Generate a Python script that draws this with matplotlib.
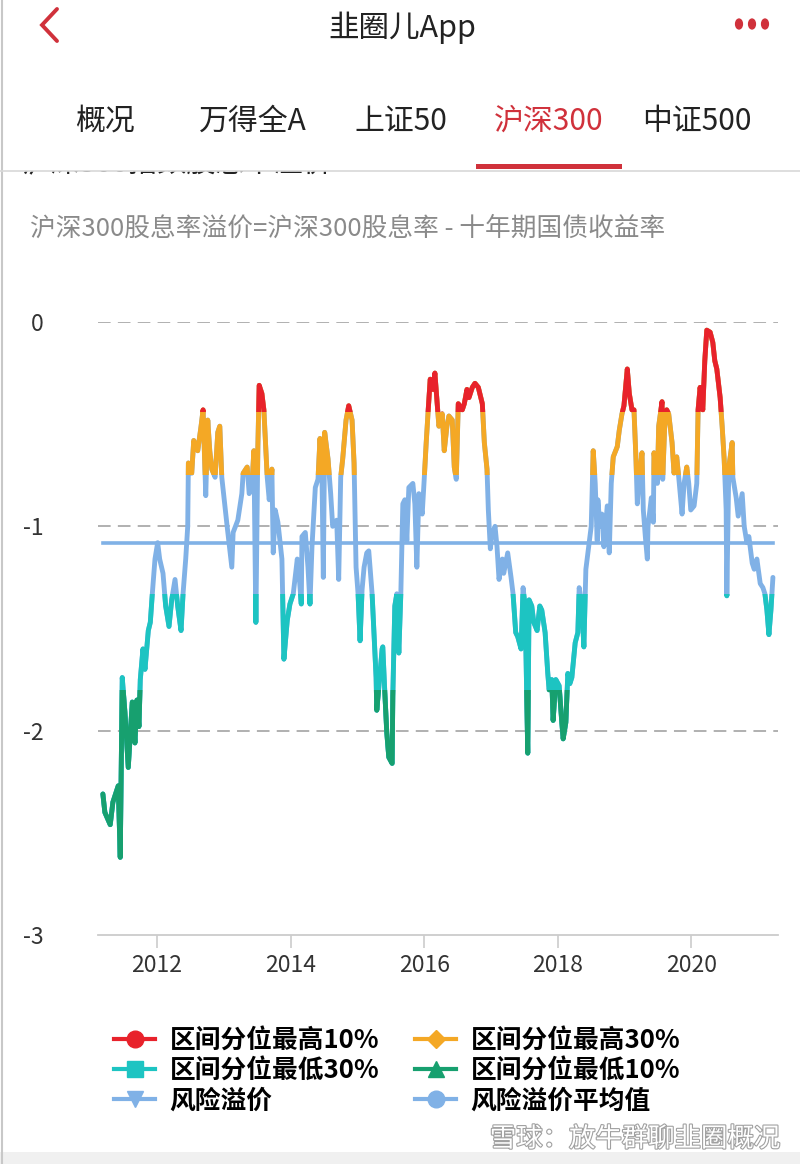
import matplotlib
matplotlib.use("Agg")
import matplotlib.pyplot as plt
import matplotlib.patheffects as pe
from matplotlib.lines import Line2D
from matplotlib.patches import Rectangle, Circle

plt.rcParams['font.family'] = ['Noto Sans CJK SC', 'DejaVu Sans']

# 沪深300 股息率溢价 (%)
years = [
    2011.19, 2011.22, 2011.30, 2011.34, 2011.40, 2011.42, 2011.45, 2011.48, 2011.52, 2011.57,
    2011.63, 2011.67, 2011.70, 2011.73, 2011.75, 2011.79, 2011.82, 2011.87, 2011.90, 2011.93,
    2011.97, 2012.01, 2012.04, 2012.09, 2012.13, 2012.18, 2012.22, 2012.27, 2012.31, 2012.36,
    2012.39, 2012.43, 2012.46, 2012.47, 2012.52, 2012.55, 2012.61, 2012.66, 2012.69, 2012.73,
    2012.76, 2012.79, 2012.82, 2012.87, 2012.91, 2012.94, 2012.97, 2013.05, 2013.12, 2013.14,
    2013.21, 2013.27, 2013.29, 2013.35, 2013.38, 2013.42, 2013.45, 2013.48, 2013.51, 2013.53,
    2013.57, 2013.60, 2013.65, 2013.68, 2013.72, 2013.74, 2013.77, 2013.81, 2013.87, 2013.90,
    2013.95, 2013.99, 2014.04, 2014.10, 2014.13, 2014.16, 2014.17, 2014.22, 2014.26, 2014.29,
    2014.32, 2014.37, 2014.41, 2014.44, 2014.47, 2014.49, 2014.51, 2014.56, 2014.60, 2014.63,
    2014.69, 2014.72, 2014.75, 2014.78, 2014.83, 2014.87, 2014.92, 2014.95, 2014.98, 2015.01,
    2015.04, 2015.07, 2015.10, 2015.14, 2015.17, 2015.22, 2015.25, 2015.28, 2015.29, 2015.32,
    2015.37, 2015.38, 2015.41, 2015.44, 2015.47, 2015.52, 2015.53, 2015.56, 2015.59, 2015.62,
    2015.65, 2015.68, 2015.71, 2015.74, 2015.77, 2015.83, 2015.86, 2015.89, 2015.92, 2015.97,
    2016.00, 2016.03, 2016.06, 2016.09, 2016.13, 2016.16, 2016.19, 2016.22, 2016.27, 2016.30,
    2016.34, 2016.37, 2016.42, 2016.45, 2016.48, 2016.51, 2016.57, 2016.60, 2016.64, 2016.67,
    2016.72, 2016.76, 2016.81, 2016.87, 2016.90, 2016.94, 2016.96, 2016.99, 2017.01, 2017.06,
    2017.09, 2017.12, 2017.17, 2017.19, 2017.25, 2017.30, 2017.33, 2017.37, 2017.40, 2017.45,
    2017.48, 2017.51, 2017.52, 2017.55, 2017.57, 2017.61, 2017.64, 2017.69, 2017.73, 2017.76,
    2017.81, 2017.85, 2017.87, 2017.91, 2017.93, 2017.97, 2018.02, 2018.06, 2018.08, 2018.12,
    2018.15, 2018.18, 2018.21, 2018.26, 2018.30, 2018.32, 2018.36, 2018.39, 2018.42, 2018.45,
    2018.50, 2018.53, 2018.56, 2018.59, 2018.60, 2018.63, 2018.66, 2018.69, 2018.74, 2018.77,
    2018.80, 2018.83, 2018.89, 2018.92, 2018.96, 2018.99, 2019.04, 2019.07, 2019.11, 2019.14,
    2019.17, 2019.19, 2019.22, 2019.26, 2019.28, 2019.31, 2019.34, 2019.35, 2019.40, 2019.43,
    2019.44, 2019.49, 2019.51, 2019.56, 2019.57, 2019.60, 2019.63, 2019.66, 2019.71, 2019.74,
    2019.78, 2019.81, 2019.86, 2019.89, 2019.93, 2019.96, 2019.99, 2020.04, 2020.08, 2020.10,
    2020.13, 2020.17, 2020.20, 2020.23, 2020.28, 2020.32, 2020.35, 2020.38, 2020.43, 2020.46,
    2020.49, 2020.52, 2020.53, 2020.56, 2020.61, 2020.62, 2020.67, 2020.70, 2020.76, 2020.79,
    2020.83, 2020.86, 2020.91, 2020.94, 2020.98, 2021.03, 2021.07, 2021.10, 2021.13, 2021.16,
    2021.19, 2021.22,
]
premium = [
    -2.31, -2.40, -2.46, -2.35, -2.29, -2.27, -2.62, -1.74, -1.91, -2.18,
    -1.86, -2.06, -1.85, -1.98, -1.75, -1.60, -1.70, -1.51, -1.47, -1.33,
    -1.16, -1.08, -1.16, -1.23, -1.39, -1.49, -1.36, -1.26, -1.39, -1.51,
    -1.33, -1.16, -1.00, -0.69, -0.74, -0.58, -0.63, -0.51, -0.43, -0.85,
    -0.48, -0.63, -0.72, -0.76, -0.54, -0.51, -0.76, -1.00, -1.20, -1.03,
    -0.97, -0.84, -0.74, -0.71, -0.84, -0.81, -0.63, -1.47, -0.61, -0.31,
    -0.35, -0.43, -0.76, -0.87, -0.72, -1.13, -0.92, -0.98, -1.16, -1.65,
    -1.46, -1.38, -1.33, -1.16, -1.25, -1.38, -1.05, -1.03, -1.20, -1.38,
    -1.10, -0.81, -0.77, -0.57, -0.76, -1.25, -0.54, -0.67, -0.84, -1.00,
    -0.97, -1.26, -0.76, -0.67, -0.48, -0.41, -0.48, -0.69, -1.20, -1.33,
    -1.56, -1.31, -1.20, -1.13, -1.12, -1.33, -1.54, -1.74, -1.90, -1.79,
    -1.60, -1.59, -1.81, -2.01, -2.13, -2.16, -1.83, -1.39, -1.33, -1.62,
    -1.33, -0.89, -0.87, -1.07, -0.81, -0.79, -0.89, -1.20, -0.84, -0.94,
    -0.77, -0.59, -0.43, -0.28, -0.33, -0.25, -0.38, -0.51, -0.45, -0.63,
    -0.51, -0.46, -0.48, -0.71, -0.77, -0.40, -0.43, -0.40, -0.33, -0.37,
    -0.32, -0.30, -0.32, -0.40, -0.59, -0.72, -0.92, -1.11, -1.05, -1.00,
    -1.10, -1.26, -1.16, -1.23, -1.13, -1.25, -1.33, -1.52, -1.54, -1.60,
    -1.30, -1.39, -1.56, -2.11, -1.36, -1.39, -1.47, -1.51, -1.39, -1.41,
    -1.52, -1.72, -1.80, -1.75, -1.95, -1.75, -1.78, -1.96, -2.04, -1.96,
    -1.72, -1.77, -1.74, -1.57, -1.52, -1.30, -1.39, -1.59, -1.21, -1.13,
    -1.00, -0.63, -0.79, -1.07, -0.87, -1.00, -0.94, -1.10, -0.90, -1.13,
    -0.79, -0.66, -0.61, -0.53, -0.45, -0.41, -0.23, -0.35, -0.43, -0.43,
    -0.67, -0.89, -0.76, -0.64, -0.92, -1.05, -1.16, -1.00, -0.86, -0.98,
    -0.64, -0.79, -0.51, -0.39, -0.77, -0.51, -0.43, -0.45, -0.59, -0.74,
    -0.66, -0.76, -0.94, -0.79, -0.71, -0.79, -0.92, -0.90, -0.79, -0.43,
    -0.32, -0.43, -0.19, -0.04, -0.05, -0.10, -0.19, -0.23, -0.37, -0.51,
    -0.67, -0.92, -1.34, -0.71, -0.59, -0.76, -0.86, -0.95, -0.84, -1.00,
    -1.08, -1.05, -1.18, -1.21, -1.16, -1.28, -1.30, -1.33, -1.41, -1.53,
    -1.41, -1.25,
]
mean_premium = -1.08
# percentile thresholds: top 10%, top 30%, bottom 30%, bottom 10%
q90, q70, q30, q10 = -0.44, -0.75, -1.33, -1.80

x_ticks = [2012, 2014, 2016, 2018, 2020]
y_ticks = [0, -1, -2, -3]

legend_labels = ['区间分位最高10%', '区间分位最高30%', '区间分位最低30%',
                 '区间分位最低10%', '风险溢价', '风险溢价平均值']

RED = '#e8222b'
ORANGE = '#f4a825'
CYAN = '#1dc4c2'
GREEN = '#17a06f'
BLUE = '#80b1e6'
ACCENT = '#d0313b'

W, H = 800, 1164
fig = plt.figure(figsize=(W / 100, H / 100), dpi=100)


def fx(px):
    return px / W


def fy(py):
    return 1 - py / H


# half-hidden section title under the tab bar, then a white cover above it
fig.text(fx(22), fy(164), '沪深300指数股息率溢价', ha='left', va='center',
         fontsize=21, color='#222', zorder=1)
fig.add_artist(Rectangle((0, fy(171)), 1, 171 / H, transform=fig.transFigure,
                         facecolor='white', edgecolor='none', zorder=2))

# ---- app header ----
fig.text(fx(402), fy(28), '韭圈儿App', ha='center', va='center', fontsize=22,
         color='#222', zorder=5)
fig.add_artist(Line2D([fx(57), fx(42), fx(57)], [fy(9), fy(25), fy(41)],
                      color=ACCENT, lw=2.8, solid_capstyle='round',
                      solid_joinstyle='miter', zorder=5))
for dx in (739, 752, 765):
    fig.add_artist(Circle((fx(dx), fy(24)), 3.4 / W, color=ACCENT,
                          transform=fig.transFigure, zorder=5))

tabs = ['概况', '万得全A', '上证50', '沪深300', '中证500']
tab_x = [105, 253, 401, 549, 697]
for t, x in zip(tabs, tab_x):
    fig.text(fx(x), fy(121), t, ha='center', va='center', fontsize=21.5, zorder=5,
             color=ACCENT if t == '沪深300' else '#222')

fig.add_artist(Rectangle((fx(476), fy(169)), 146 / W, 5 / H, transform=fig.transFigure,
                         facecolor=ACCENT, edgecolor='none', zorder=6))
fig.add_artist(Line2D([0, 1], [fy(171), fy(171)], color='#d8d8d8', lw=1.2, zorder=6))

fig.text(fx(30), fy(229), '沪深300股息率溢价=沪深300股息率 - 十年期国债收益率',
         ha='left', va='center', fontsize=18.5, color='#8a8a8a')

# ---- chart ----
ax = fig.add_axes([fx(98), fy(935), (778 - 98) / W, (935 - 322) / H])
ax.set_xlim(2011.117, 2021.296)
ax.set_ylim(-3, 0)

for g in (0, -1, -2):
    ax.axhline(g, color='#aaaaaa', lw=1.3, ls=(0, (7, 4)), zorder=1)

ax.plot([years[0], years[-1]], [mean_premium, mean_premium], color=BLUE, lw=2.6, zorder=2)

bands = [
    (BLUE, -3.0, 0.0),
    (ORANGE, q70, 0.0),
    (RED, q90, 0.0),
    (CYAN, -3.0, q30),
    (GREEN, -3.0, q10),
]
for color, lo, hi in bands:
    line, = ax.plot(years, premium, color=color, lw=3.5, zorder=3,
                    solid_joinstyle='round', solid_capstyle='round')
    clip = Rectangle((2010, lo), 12, hi - lo, transform=ax.transData)
    line.set_clip_path(clip)

for s in ('top', 'right', 'left'):
    ax.spines[s].set_visible(False)
ax.spines['bottom'].set_color('#cccccc')
ax.spines['bottom'].set_linewidth(1.3)

ax.set_xticks(x_ticks)
ax.set_xticklabels([str(v) for v in x_ticks])
ax.set_yticks(y_ticks)
ax.set_yticklabels([str(v) for v in y_ticks])
ax.tick_params(axis='x', length=9, width=1.2, color='#cccccc', labelsize=16.5,
               labelcolor='#333333', pad=5)
ax.tick_params(axis='y', length=0, labelsize=16.5, labelcolor='#333333', pad=39)

# ---- legend ----
handles = [
    Line2D([], [], color=RED, lw=3, marker='o', markersize=12),
    Line2D([], [], color=ORANGE, lw=3, marker='D', markersize=9),
    Line2D([], [], color=CYAN, lw=3, marker='s', markersize=11),
    Line2D([], [], color=GREEN, lw=3, marker='^', markersize=12),
    Line2D([], [], color=BLUE, lw=3, marker='v', markersize=12),
    Line2D([], [], color=BLUE, lw=3, marker='o', markersize=12),
]
order = [0, 2, 4, 1, 3, 5]
fig.legend([handles[i] for i in order], [legend_labels[i] for i in order],
           ncol=2, loc='upper left', bbox_to_anchor=(fx(104), fy(1017)), frameon=False,
           prop={'weight': 'bold', 'size': 18.5}, handlelength=1.6, handletextpad=0.55,
           columnspacing=1.4, labelspacing=0.12, borderaxespad=0)

# watermark + bottom bar
fig.text(fx(780), fy(1139), '雪球：放牛群聊韭圈概况', ha='right', va='center',
         fontsize=19, color='white',
         path_effects=[pe.withStroke(linewidth=1.6, foreground='#a0a0a0')])
fig.add_artist(Rectangle((0, 0), 1, 12 / H, transform=fig.transFigure,
                         facecolor='#f0f0f0', edgecolor='none'))
fig.add_artist(Line2D([fx(1.5), fx(1.5)], [0, 1], color='#c8c8c8', lw=1.5))

fig.savefig('out.png', dpi=100, facecolor='white')
